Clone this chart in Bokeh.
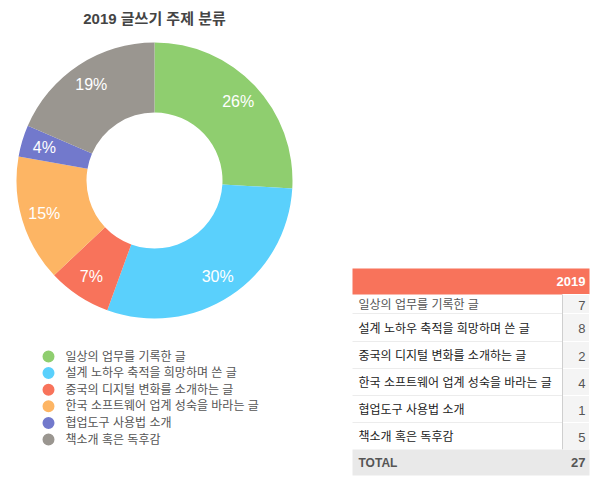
import math
from bokeh.plotting import figure
from bokeh.models import Range1d, ColumnDataSource
from bokeh.core.properties import value
from bokeh.embed import file_html
from bokeh.resources import INLINE

# ---- data ----
title = "2019 글쓰기 주제 분류"
categories = [
    "일상의 업무를 기록한 글",
    "설계 노하우 축적을 희망하며 쓴 글",
    "중국의 디지털 변화를 소개하는 글",
    "한국 소프트웨어 업계 성숙을 바라는 글",
    "협업도구 사용법 소개",
    "책소개 혹은 독후감",
]
counts = [7, 8, 2, 4, 1, 5]
colors = ["#8fce6f", "#5ad0fc", "#f8735b", "#fdb564", "#7279cc", "#9a9690"]
year_label = "2019"
total_label = "TOTAL"

FONT = "Liberation Sans, Noto Sans CJK KR"
W, H = 600, 485

def X(px):
    return px

def Y(py):
    return H - py

p = figure(width=W, height=H, output_backend="svg", toolbar_location=None,
           x_range=Range1d(0, W), y_range=Range1d(0, H), min_border=0)
p.axis.visible = False
p.grid.visible = False
p.outline_line_color = None
p.background_fill_color = "white"
p.border_fill_color = "white"

# ---- title ----
p.text(x=[X(154)], y=[Y(18)], text=[title], text_font=value(FONT),
       text_font_size="15px", text_font_style="bold", text_color="#444444",
       text_align="center", text_baseline="middle")

# ---- donut ----
total = sum(counts)
cx, cy = X(154), Y(180)
r_out, r_in, r_lab = 138, 68, 115
starts, ends, lx, ly, labels = [], [], [], [], []
cum = 0
for c in counts:
    a0 = math.pi / 2 - 2 * math.pi * cum / total
    a1 = math.pi / 2 - 2 * math.pi * (cum + c) / total
    starts.append(a0)
    ends.append(a1)
    mid = (a0 + a1) / 2
    lx.append(cx + r_lab * math.cos(mid))
    ly.append(cy + r_lab * math.sin(mid))
    labels.append(f"{round(c / total * 100)}%")
    cum += c

src = ColumnDataSource(dict(start=starts, end=ends, color=colors))
p.annular_wedge(x=cx, y=cy, inner_radius=r_in, outer_radius=r_out,
                start_angle="start", end_angle="end", direction="clock",
                fill_color="color", line_color=None, source=src)
p.text(x=lx, y=ly, text=labels, text_font=value(FONT), text_font_size="16px",
       text_color="white", text_align="center", text_baseline="middle")

# ---- legend ----
leg_y = [Y(356 + i * 16.6) for i in range(len(categories))]
p.scatter(x=[X(48)] * len(categories), y=leg_y, size=12, marker="circle",
          fill_color=colors, line_color=None)
p.text(x=[X(65)] * len(categories), y=leg_y, text=categories,
       text_font=value(FONT), text_font_size="12px", text_color="#555555",
       text_align="left", text_baseline="middle")

# ---- table ----
tl, tr, tdiv = X(352), X(589), X(562)
hdr_top, hdr_bot = 268, 294
row_edges = [294, 313, 341, 368, 395, 422, 449]
tot_bot = 475

# header
p.quad(left=tl, right=tr, top=Y(hdr_top), bottom=Y(hdr_bot),
       fill_color="#f8735b", line_color=None)
p.text(x=[X(585)], y=[Y((hdr_top + hdr_bot) / 2)], text=[year_label],
       text_font=value(FONT), text_font_size="13px", text_font_style="bold",
       text_color="white", text_align="right", text_baseline="middle")

tops = [Y(v) for v in row_edges[:-1]]
bots = [Y(v) for v in row_edges[1:]]
mids = [Y((a + b) / 2 + 1) for a, b in zip(row_edges[:-1], row_edges[1:])]
# number column background
p.quad(left=tdiv, right=tr, top=tops, bottom=bots, fill_color="#f4f4f4",
       line_color="white", line_width=1)
# row separators
p.segment(x0=tl, x1=tdiv, y0=bots[:-1], y1=bots[:-1], line_color="#ececec", line_width=1)
# vertical divider
p.segment(x0=tdiv, x1=tdiv, y0=Y(row_edges[0]), y1=Y(row_edges[-1]),
          line_color="#cfcfcf", line_width=1)
row_colors = ["#555555"] + ["#222222"] * (len(categories) - 1)
p.text(x=[X(358)] * len(categories), y=mids, text=categories,
       text_font=value(FONT), text_font_size="12px", text_color=row_colors,
       text_align="left", text_baseline="middle")
p.text(x=[X(585)] * len(counts), y=mids, text=[str(c) for c in counts],
       text_font=value(FONT), text_font_size="13px", text_color="#555555",
       text_align="right", text_baseline="middle")

# total row
p.quad(left=tl, right=tr, top=Y(row_edges[-1]), bottom=Y(tot_bot),
       fill_color="#e9e9e9", line_color=None)
tmid = Y((row_edges[-1] + tot_bot) / 2)
p.text(x=[X(358)], y=[tmid], text=[total_label], text_font=value(FONT),
       text_font_size="12px", text_font_style="bold", text_color="#555555",
       text_align="left", text_baseline="middle")
p.text(x=[X(585)], y=[tmid], text=[str(total)], text_font=value(FONT),
       text_font_size="13px", text_font_style="bold", text_color="#555555",
       text_align="right", text_baseline="middle")

open("out.html", "w").write(file_html(p, INLINE))
